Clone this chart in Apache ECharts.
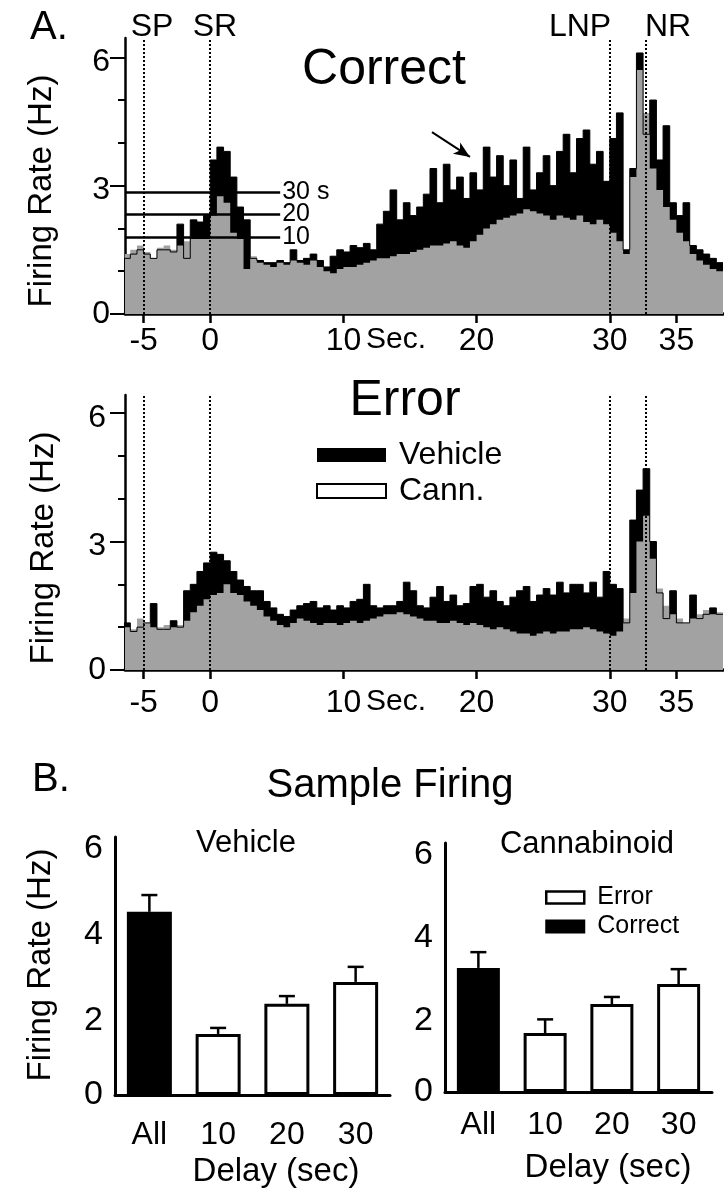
<!DOCTYPE html>
<html>
<head>
<meta charset="utf-8">
<script src="https://cdn.jsdelivr.net/npm/echarts@6.0.0/dist/echarts.min.js"></script>
<style>
  html, body { margin: 0; padding: 0; background: #fff; }
  #main { width: 724px; height: 1200px; }
</style>
</head>
<body>
<div id="main"></div>
<script>
// histogram bins, seconds from sample response
const binStart = -6.5
const binWidth = 0.5

const correctVehicle = [
  1.3, 1.4, 1.5, 1.4, 1.3, 1.5, 1.5, 1.45, 2.1, 1.3,
  2.2, 2.15, 2.3, 3.6, 3.9, 3.8, 3.2, 2.5, 2.2, 1.3,
  1.25, 1.2, 1.2, 1.25, 1.2, 1.5, 1.25, 1.3, 1.4, 1.25,
  1.1, 1.35, 1.5, 1.45, 1.6, 1.55, 1.65, 1.5, 2.1, 2.4,
  2.9, 2.2, 2.6, 2.3, 2.5, 2.8, 3.4, 2.6, 3.5, 2.9,
  3.2, 2.7, 3.3, 2.9, 3.9, 3.2, 3.7, 3.0, 3.6, 2.7,
  3.9, 2.9, 3.3, 3.7, 3.0, 3.8, 4.2, 3.3, 4.1, 4.3,
  3.5, 3.8, 3.1, 4.1, 4.7, 1.5, 3.4, 6.1, 4.2, 5.0,
  3.6, 4.4, 2.6, 2.3, 2.6, 1.6, 1.5, 1.4, 1.3, 1.2
]
const correctCann = [
  1.4, 1.5, 1.6, 1.45, 1.3, 1.55, 1.6, 1.5, 1.6, 1.7,
  1.75, 1.75, 1.75, 2.3, 2.75, 2.6, 1.9, 1.75, 1.05, 1.35,
  1.2, 1.15, 1.1, 1.2, 1.15, 1.25, 1.2, 1.15, 1.25, 1.1,
  1.0, 0.95, 1.05, 1.1, 1.1, 1.15, 1.2, 1.25, 1.3, 1.3,
  1.35, 1.4, 1.4, 1.45, 1.5, 1.55, 1.6, 1.6, 1.65, 1.7,
  1.6, 1.55, 1.7, 1.85, 2.0, 2.1, 2.2, 2.25, 2.3, 2.35,
  2.45, 2.4, 2.35, 2.3, 2.2, 2.3, 2.25, 2.2, 2.3, 2.15,
  2.1, 2.2, 2.1, 1.9, 1.7, 1.4, 3.2, 5.7, 4.7, 3.4,
  2.9, 2.5, 2.2, 1.9, 1.7, 1.4, 1.25, 1.15, 1.05, 1.0
]
const errorVehicle = [
  1.1, 0.9, 1.0, 1.1, 1.55, 0.95, 0.95, 1.15, 1.0, 1.85,
  2.0, 2.3, 2.5, 2.75, 2.7, 2.55, 2.3, 2.1, 1.95, 1.85,
  1.85, 1.6, 1.45, 1.3, 1.25, 1.4, 1.5, 1.55, 1.6, 1.45,
  1.5, 1.4, 1.5, 1.45, 1.6, 1.65, 2.0, 1.5, 1.45, 1.5,
  1.5, 1.6, 2.05, 1.85, 1.5, 1.45, 1.7, 1.95, 1.6, 1.75,
  1.5, 1.55, 1.95, 2.0, 1.7, 1.85, 1.6, 1.5, 1.7, 1.85,
  1.95, 1.6, 1.75, 1.9, 1.75, 2.05, 1.8, 2.0, 2.0, 1.8,
  2.05, 1.7, 2.3, 2.0, 1.9, 1.1, 3.5, 4.2, 4.7, 3.0,
  1.8, 1.2, 1.85, 1.1, 1.1, 1.75, 1.2, 1.3, 1.45, 1.3
]
const errorCann = [
  1.0, 0.95, 1.2, 1.1, 1.0, 1.0, 1.05, 1.0, 1.05, 1.15,
  1.35, 1.5, 1.65, 1.75, 1.8, 2.0, 1.8, 1.75, 1.6, 1.5,
  1.4, 1.25, 1.15, 1.05, 1.0, 1.1, 1.2, 1.15, 1.1, 1.05,
  1.1, 1.1, 1.05, 1.1, 1.15, 1.1, 1.15, 1.2, 1.25, 1.3,
  1.3, 1.35, 1.3, 1.25, 1.2, 1.15, 1.15, 1.1, 1.1, 1.15,
  1.1, 1.05, 1.1, 1.05, 1.0, 0.95, 1.0, 0.95, 0.9, 0.85,
  0.85, 0.8, 0.85, 0.9, 0.85, 0.9, 0.9, 0.95, 0.95, 1.0,
  0.95, 0.9, 0.85, 0.8, 0.9, 1.2, 1.8, 3.0, 3.6, 2.6,
  1.9, 1.5, 1.3, 1.2, 1.1, 1.2, 1.3, 1.4, 1.3, 1.35
]

const timeTicks = [-5, 0, 10, 20, 30, 35]
const eventTimes = [-5, 0, 30, 32.7]
const delayRates = [1.8, 2.34, 2.85]
const delayNames = ['10', '20', '30 s']
const delayLineEnd = 5.25
const arrowFrom = [16.65, 4.25]
const arrowTo = [19.5, 3.67]

const delayCats = ['All', '10', '20', '30']
const vehicleMean = [4.26, 1.42, 2.12, 2.63]
const vehicleSem = [0.39, 0.14, 0.18, 0.35]
const cannMean = [2.99, 1.42, 2.12, 2.6]
const cannSem = [0.38, 0.33, 0.17, 0.36]

const FONT = "'Liberation Sans', Arial, Helvetica, sans-serif"
const GRAY = '#a2a2a2'

function toSteps(arr) {
  const pts = arr.map((v, i) => [binStart + i * binWidth, v])
  pts.push([binStart + arr.length * binWidth, arr[arr.length - 1]])
  return pts
}

function histX(grid, margin) {
  return {
    type: 'value', gridIndex: grid, min: -6.4, max: 38.5,
    axisLine: { onZero: false, lineStyle: { color: '#000', width: 3.5 } },
    axisTick: { customValues: timeTicks, length: 9, lineStyle: { color: '#000', width: 2.5 } },
    axisLabel: { customValues: timeTicks, fontSize: 32, color: '#000', fontFamily: FONT, margin: margin },
    splitLine: { show: false }
  }
}
function histY(grid, max, margin) {
  return {
    type: 'value', gridIndex: grid, min: 0, max: max, position: 'left',
    axisLine: { show: true, onZero: false, lineStyle: { color: '#000', width: 2.5 } },
    axisTick: { customValues: [0, 3, 6], length: 15, lineStyle: { color: '#000', width: 2 } },
    axisLabel: {
      customValues: [0, 3, 6], color: '#000', fontFamily: FONT, margin: margin,
      formatter: v => v === 0 ? '{z|0}' : '{n|' + v + '}',
      rich: {
        z: { fontSize: 32, fontFamily: FONT, color: '#000' },
        n: { fontSize: 32, fontFamily: FONT, color: '#000', padding: [10, 0, 0, 0] }
      }
    },
    splitLine: { show: false }
  }
}
function histYMinor(grid, max) {
  return {
    type: 'value', gridIndex: grid, min: 0, max: max, position: 'left', offset: 0,
    axisLine: { show: false, onZero: false },
    axisTick: { customValues: [1, 2, 4, 5], length: 7, lineStyle: { color: '#000', width: 2 } },
    axisLabel: { show: false },
    splitLine: { show: false }
  }
}
function barX(grid, margin) {
  return {
    type: 'category', gridIndex: grid, data: delayCats,
    axisLine: { lineStyle: { color: '#000', width: 3 } },
    axisTick: { alignWithLabel: true, length: 4, lineStyle: { color: '#000', width: 2.5 } },
    axisLabel: { fontSize: 32, color: '#000', fontFamily: FONT, margin: margin }
  }
}
function barY(grid) {
  return {
    type: 'value', gridIndex: grid, min: 0, max: 6, interval: 2,
    axisLine: { show: true, onZero: false, lineStyle: { color: '#000', width: 3 } },
    axisTick: { length: 5, lineStyle: { color: '#000', width: 2.5 } },
    axisLabel: {
      color: '#000', fontFamily: FONT, margin: 12,
      formatter: v => v === 0 ? '{z|0}' : '{n|' + v + '}',
      rich: {
        z: { fontSize: 34, fontFamily: FONT, color: '#000' },
        n: { fontSize: 34, fontFamily: FONT, color: '#000', padding: [24, 0, 0, 0] }
      }
    },
    splitLine: { show: false }
  }
}

function histSeries(name, data, xi, yi, color, extra) {
  return Object.assign({
    name: name, type: 'line', xAxisIndex: xi, yAxisIndex: yi,
    data: toSteps(data), step: 'end', symbol: 'none', silent: true,
    itemStyle: { color: color },
    lineStyle: { color: color, width: 1 },
    areaStyle: { color: color, opacity: 1 }
  }, extra || {})
}

const eventLines = {
  silent: true, symbol: ['none', 'none'], label: { show: false },
  lineStyle: { color: '#000', type: 'dotted', width: 2 },
  data: eventTimes.map(t => ({ xAxis: t }))
}

const delayLines = {
  silent: true, symbol: ['none', 'none'],
  lineStyle: { color: '#000', type: 'solid', width: 2.5 },
  label: { show: true, position: 'end', formatter: '{b}', fontSize: 25, color: '#000', fontFamily: FONT, distance: 2 },
  data: delayRates.map((r, i) => [
    { coord: [-6.4, r], name: delayNames[i] },
    { coord: [delayLineEnd, r] }
  ]).concat([[
    { coord: arrowFrom, symbol: 'none', label: { show: false }, lineStyle: { width: 2 } },
    { coord: arrowTo, symbol: 'arrow', symbolSize: [10, 16] }
  ]])
}

function errorBars(name, mean, sem, xi, yi) {
  return {
    name: name + ' sem', type: 'custom', xAxisIndex: xi, yAxisIndex: yi, z: 5, silent: true,
    data: mean.map((m, i) => [i, m, sem[i]]),
    encode: { x: 0, y: 1 },
    renderItem: function (params, api) {
      const base = api.coord([api.value(0), api.value(1)])
      const top = api.coord([api.value(0), api.value(1) + api.value(2)])
      const st = { stroke: '#000', lineWidth: 2.5 }
      return {
        type: 'group',
        children: [
          { type: 'line', shape: { x1: base[0], y1: base[1], x2: top[0], y2: top[1] }, style: st },
          { type: 'line', shape: { x1: top[0] - 8, y1: top[1], x2: top[0] + 8, y2: top[1] }, style: st }
        ]
      }
    }
  }
}

function barSeries(mean, xi, yi, width) {
  return [
    {
      name: 'Correct', type: 'bar', xAxisIndex: xi, yAxisIndex: yi, barWidth: width, barGap: '-100%',
      data: mean.map((v, i) => i === 0 ? v : '-'),
      itemStyle: { color: '#000', borderColor: '#000', borderWidth: 3 }
    },
    {
      name: 'Error', type: 'bar', xAxisIndex: xi, yAxisIndex: yi, barWidth: width, barGap: '-100%',
      data: mean.map((v, i) => i === 0 ? '-' : v),
      itemStyle: { color: '#fff', borderColor: '#000', borderWidth: 3 }
    }
  ]
}

function txt(text, x, y, size, align, rot) {
  return {
    type: 'text', x: x, y: y, rotation: rot || 0,
    style: {
      text: text, x: 0, y: 0, fill: '#000', fontSize: size, fontFamily: FONT,
      align: align || 'center', verticalAlign: 'middle',
      textAlign: align || 'center', textVerticalAlign: 'middle'
    }
  }
}

const chart = echarts.init(document.getElementById('main'))
chart.setOption({
  animation: false,
  backgroundColor: '#fff',
  textStyle: { fontFamily: FONT, color: '#000' },
  grid: [
    { left: 125, top: 38, width: 598, height: 276 },
    { left: 125, top: 395, width: 598, height: 275 },
    { left: 115, top: 837, width: 275, height: 258 },
    { left: 445, top: 843, width: 267, height: 249 }
  ],
  xAxis: [histX(0, 11), histX(1, 17), barX(2, 24), barX(3, 17)],
  yAxis: [
    histY(0, 6.45, 15), histYMinor(0, 6.45),
    histY(1, 6.42, 19), histYMinor(1, 6.42),
    barY(2), barY(3)
  ],
  legend: [
    {
      orient: 'vertical', left: 311, top: 434, itemWidth: 69, itemHeight: 14, itemGap: 4,
      icon: 'rect', selectedMode: false,
      textStyle: { fontSize: 32, color: '#000', fontFamily: FONT, padding: [0, 0, 0, 8] },
      data: [
        { name: 'Vehicle', itemStyle: { color: '#000', borderWidth: 0 } },
        { name: 'Cann.', itemStyle: { color: '#fff', borderColor: '#000', borderWidth: 2 } }
      ]
    },
    {
      orient: 'vertical', left: 540, top: 880, itemWidth: 38, itemHeight: 12, itemGap: 4,
      icon: 'rect', selectedMode: false,
      textStyle: { fontSize: 25, lineHeight: 25, color: '#000', fontFamily: FONT, padding: [0, 0, 0, 8] },
      data: [
        { name: 'Error', itemStyle: { color: '#fff', borderColor: '#000', borderWidth: 2.5 } },
        { name: 'Correct', itemStyle: { color: '#000' } }
      ]
    }
  ],
  series: [
    histSeries('Vehicle', correctVehicle, 0, 0, '#000'),
    histSeries('Cann.', correctCann, 0, 0, GRAY, { lineStyle: { width: 0 }, markLine: eventLines }),
    { name: 'delay', type: 'line', xAxisIndex: 0, yAxisIndex: 0, data: [], z: 4, markLine: delayLines },
    histSeries('Vehicle', errorVehicle, 1, 2, '#000'),
    histSeries('Cann.', errorCann, 1, 2, GRAY, { lineStyle: { width: 0 }, markLine: eventLines }),
    ...barSeries(vehicleMean, 2, 4, 45),
    errorBars('vehicle', vehicleMean, vehicleSem, 2, 4),
    ...barSeries(cannMean, 3, 5, 43),
    errorBars('cann', cannMean, cannSem, 3, 5)
  ],
  graphic: [
    txt('A.', 30, 28, 40, 'left'),
    txt('SP', 152, 27, 32), txt('SR', 215, 27, 32),
    txt('LNP', 580, 27, 32), txt('NR', 668, 27, 32),
    txt('Correct', 384, 70, 50),
    txt('Sec.', 396, 340, 30),
    txt('Error', 405, 401, 50),
    txt('Sec.', 396, 702, 30),
    txt('Firing Rate (Hz)', 42, 191, 33, 'center', Math.PI / 2),
    txt('Firing Rate (Hz)', 44, 548, 33, 'center', Math.PI / 2),
    txt('B.', 32, 780, 40, 'left'),
    txt('Sample Firing', 390, 786, 40),
    txt('Vehicle', 246, 843, 31),
    txt('Cannabinoid', 587, 844, 31),
    txt('Firing Rate (Hz)', 41, 965, 33, 'center', Math.PI / 2),
    txt('Delay (sec)', 276, 1172, 33),
    txt('Delay (sec)', 608, 1168, 33)
  ]
})
</script>
</body>
</html>
